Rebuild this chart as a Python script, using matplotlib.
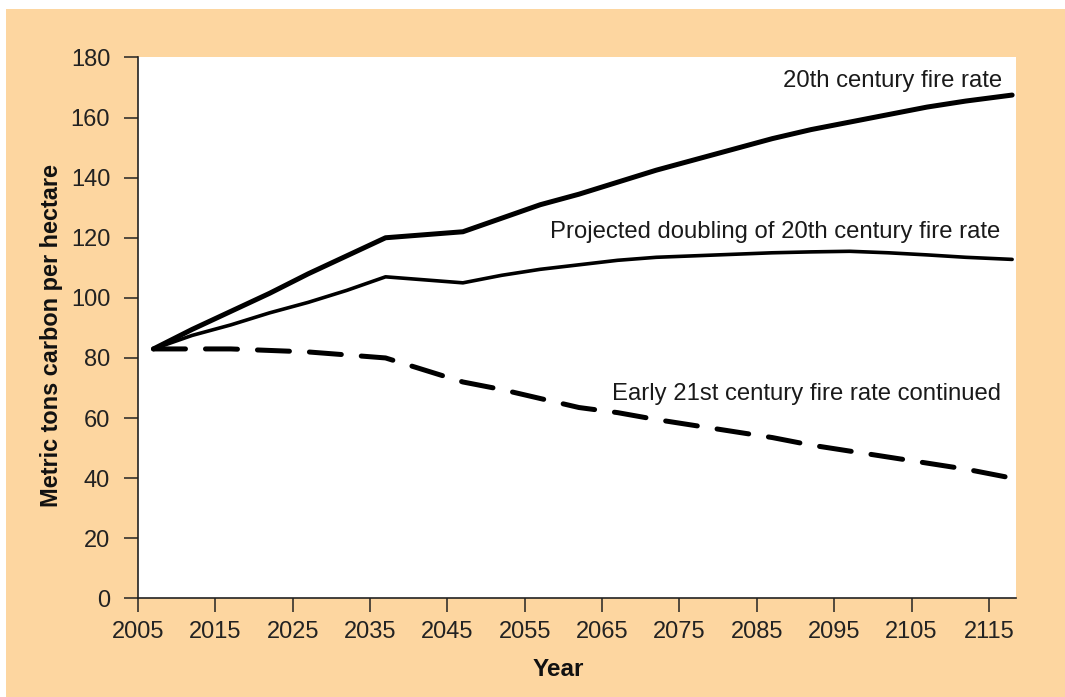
import matplotlib
matplotlib.use("Agg")
import matplotlib.pyplot as plt
from matplotlib.patches import Rectangle

plt.rcParams['font.family'] = ['Liberation Sans', 'DejaVu Sans']

years = [2007, 2012, 2017, 2022, 2027, 2032, 2037, 2042, 2047, 2052, 2057, 2062,
         2067, 2072, 2077, 2082, 2087, 2092, 2097, 2102, 2107, 2112, 2118]
rate_20th = [83, 89.5, 95.5, 101.5, 108, 114, 120, 121, 122, 126.5, 131, 134.5,
             138.5, 142.5, 146, 149.5, 153, 156, 158.5, 161, 163.5, 165.5, 167.5]
rate_doubled = [83, 87.5, 91, 95, 98.5, 102.5, 107, 106, 105, 107.5, 109.5, 111,
                112.5, 113.5, 114, 114.5, 115, 115.3, 115.5, 115, 114.3, 113.5, 112.8]
rate_early21 = [83, 83, 83, 82.5, 82, 81, 80, 76, 72, 69.5, 66.5, 63.5,
                61.8, 59.5, 57.5, 55.5, 53.5, 51, 49, 47, 45, 43, 40]

labels = ["20th century fire rate",
          "Projected doubling of 20th century fire rate",
          "Early 21st century fire rate continued"]
label_pos = [(2116.7, 170.1), (2116.5, 119.8), (2116.5, 66.0)]

x_ticks = list(range(2005, 2116, 10))
y_ticks = list(range(0, 181, 20))

W, H = 1065, 697
fig = plt.figure(figsize=(W / 100, H / 100), dpi=100)
fig.patch.set_facecolor('white')
peach = '#FDD6A0'
fig.patches.append(Rectangle((6 / W, 0), 1 - 6 / W, 1 - 9 / H,
                             transform=fig.transFigure, facecolor=peach,
                             edgecolor='none', zorder=-10))

left, right, top, bottom = 138, 1016, 57.5, 598.3
ax = fig.add_axes([left / W, (H - bottom) / H, (right - left) / W, (bottom - top) / H])
ax.set_facecolor('white')

ax.plot(years, rate_20th, color='black', lw=3.6, solid_capstyle='round',
        solid_joinstyle='round', zorder=3)
ax.plot(years, rate_doubled, color='black', lw=2.6, solid_capstyle='round',
        solid_joinstyle='round', zorder=3)
ax.plot(years, rate_early21, color='black', lw=3.6, dashes=(6.4, 4.0),
        dash_capstyle='round', dash_joinstyle='round', zorder=3)

for txt, (xp, yp) in zip(labels, label_pos):
    ax.text(xp, yp, txt, ha='right', va='baseline', fontsize=17.2, color='#1a1a1a')

ax.set_xlim(2005, 2118.5)
ax.set_ylim(0, 180)
ax.set_xticks(x_ticks)
ax.set_yticks(y_ticks)
for s in ['top', 'right']:
    ax.spines[s].set_visible(False)
for s in ['left', 'bottom']:
    ax.spines[s].set_linewidth(1.2)
    ax.spines[s].set_color('#222222')
ax.tick_params(axis='both', direction='out', length=10, width=1.1, color='#222222',
               labelsize=17, labelcolor='#222222')
ax.tick_params(axis='y', pad=10)
ax.tick_params(axis='x', pad=6)

ax.set_xlabel('Year', fontsize=17.5, fontweight='bold', color='#111111')
ax.set_ylabel('Metric tons carbon per hectare', fontsize=16.9, fontweight='bold',
              color='#111111')
ax.xaxis.set_label_coords((558 - left) / (right - left), -(658 - bottom) / (bottom - top),
                          transform=ax.transAxes)
ax.yaxis.set_label_coords((63 - left) / (right - left), (bottom - 336) / (bottom - top),
                          transform=ax.transAxes)

fig.savefig('out.png', dpi=100, facecolor=fig.get_facecolor())
